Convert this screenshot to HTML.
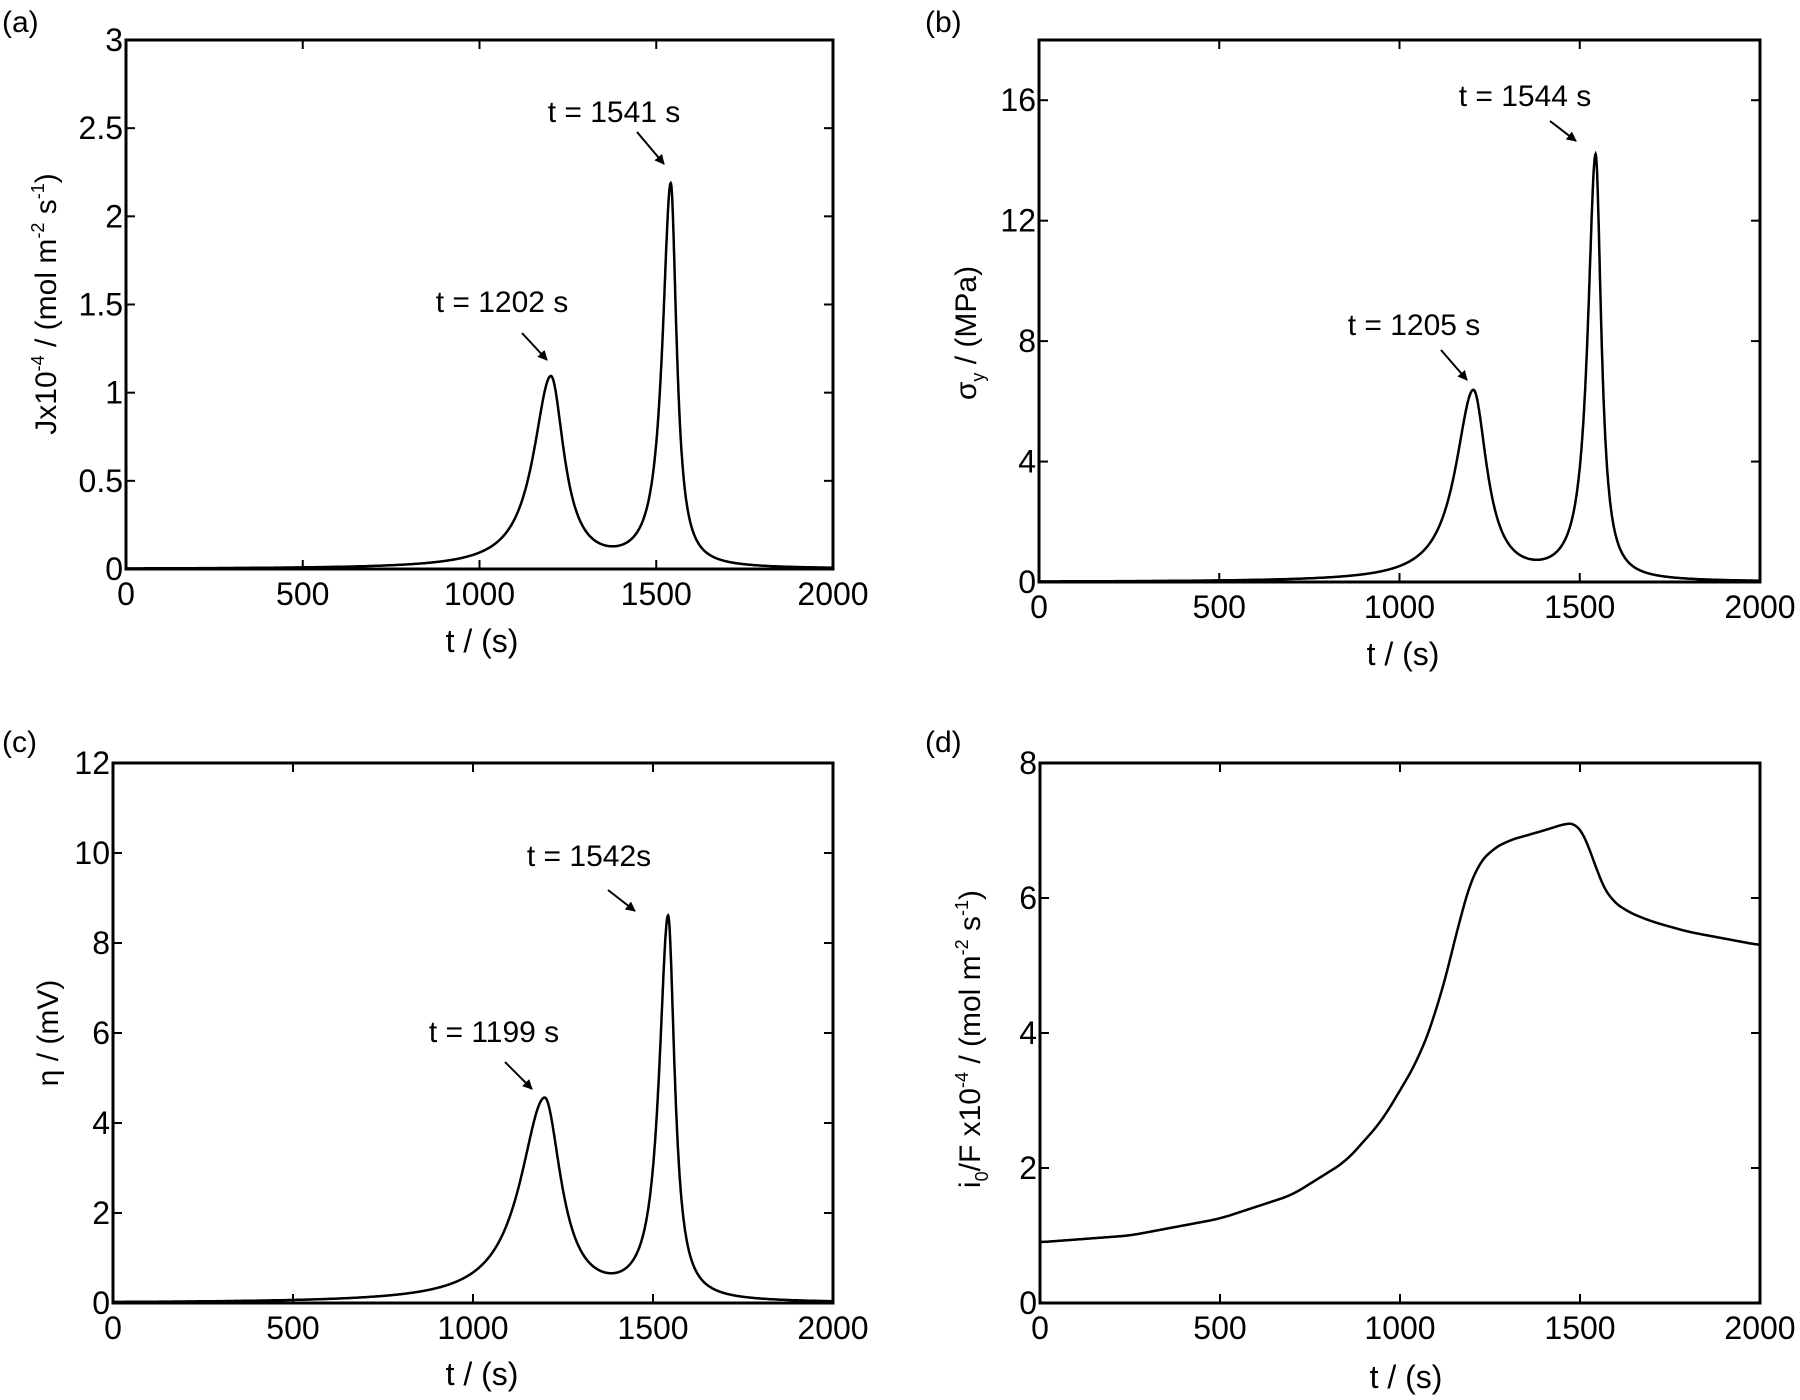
<!DOCTYPE html>
<html><head><meta charset="utf-8"><style>
html,body{margin:0;padding:0;background:#fff;}
svg{display:block;font-family:"Liberation Sans",sans-serif;}
</style></head><body>
<svg id="s" width="1800" height="1400" viewBox="0 0 1800 1400" xmlns="http://www.w3.org/2000/svg">
<defs><marker id="ar" markerWidth="10" markerHeight="10" refX="9" refY="5" orient="auto" markerUnits="userSpaceOnUse"><path d="M0,0 L10,5 L0,10 Z" fill="#000"/></marker></defs>
<text x="2" y="32" font-size="30">(a)</text>
<text x="925" y="32" font-size="30">(b)</text>
<text x="2" y="752" font-size="30">(c)</text>
<text x="925" y="752" font-size="30">(d)</text>
<text x="482" y="652" font-size="32" text-anchor="middle">t / (s)</text>
<text x="1403" y="665" font-size="32" text-anchor="middle">t / (s)</text>
<text x="482" y="1385" font-size="32" text-anchor="middle">t / (s)</text>
<text x="1406" y="1388" font-size="32" text-anchor="middle">t / (s)</text>
<text transform="translate(56,304) rotate(-90)" font-size="30" text-anchor="middle">Jx10<tspan font-size="18" dy="-12">-4</tspan><tspan dy="12"> / (mol m</tspan><tspan font-size="18" dy="-12">-2</tspan><tspan dy="12"> s</tspan><tspan font-size="18" dy="-12">-1</tspan><tspan dy="12">)</tspan></text>
<text transform="translate(976,333) rotate(-90)" font-size="30" text-anchor="middle">σ<tspan font-size="18" dy="8">y</tspan><tspan dy="-8"> / (MPa)</tspan></text>
<text transform="translate(58,1033) rotate(-90)" font-size="30" text-anchor="middle">η  / (mV)</text>
<text transform="translate(980,1039) rotate(-90)" font-size="30" text-anchor="middle">i<tspan font-size="18" dy="8">0</tspan><tspan dy="-8">/F x10</tspan><tspan font-size="18" dy="-12">-4</tspan><tspan dy="12">  / (mol m</tspan><tspan font-size="18" dy="-12">-2</tspan><tspan dy="12"> s</tspan><tspan font-size="18" dy="-12">-1</tspan><tspan dy="12">)</tspan></text>
<g font-size="30" text-anchor="middle">
<text x="614" y="122">t = 1541 s</text>
<text x="502" y="312">t = 1202 s</text>
<text x="1525" y="106">t = 1544 s</text>
<text x="1414" y="335">t = 1205 s</text>
<text x="589" y="866">t = 1542s</text>
<text x="494" y="1042">t = 1199 s</text>
</g>
<g stroke="#000" stroke-width="2" marker-end="url(#ar)">
<line x1="637" y1="132" x2="664" y2="164"/>
<line x1="522" y1="333" x2="547" y2="360"/>
<line x1="1550" y1="121" x2="1576" y2="141"/>
<line x1="1441" y1="350" x2="1467" y2="380"/>
<line x1="608" y1="890" x2="635" y2="911"/>
<line x1="505" y1="1062" x2="532" y2="1089"/>
</g>
<g id="plots"></g>
</svg>
<script>
var g=document.getElementById('plots');var NS='http://www.w3.org/2000/svg';
function el(t,a,txt){var e=document.createElementNS(NS,t);for(var k in a)e.setAttribute(k,a[k]);if(txt!==undefined)e.textContent=txt;g.appendChild(e);return e;}
function L(t,c,h,wl,wr){var u=(t-c)/(t<c?wl:wr);return h/(1+u*u);}
function panel(x0,x1,y0,y1,ymax,yt,f){
 var sx=function(t){return x0+(x1-x0)*t/2000},sy=function(v){return y1-(y1-y0)*v/ymax};
 var d='';for(var t=0;t<=2000;t+=1){d+=(t?'L':'M')+sx(t).toFixed(1)+','+sy(f(t)).toFixed(1);}
 el('path',{d:d,fill:'none',stroke:'#000','stroke-width':2.5});
 el('rect',{x:x0,y:y0,width:x1-x0,height:y1-y0,fill:'none',stroke:'#000','stroke-width':3});
 [0,500,1000,1500,2000].forEach(function(t){var x=sx(t);
  el('line',{x1:x,y1:y1,x2:x,y2:y1-9,stroke:'#000','stroke-width':2});
  el('line',{x1:x,y1:y0,x2:x,y2:y0+9,stroke:'#000','stroke-width':2});
  el('text',{x:x,y:y1+36,'font-size':32,'text-anchor':'middle'},String(t));});
 yt.forEach(function(v){var y=sy(v);
  el('line',{x1:x0,y1:y,x2:x0+9,y2:y,stroke:'#000','stroke-width':2});
  el('line',{x1:x1,y1:y,x2:x1-9,y2:y,stroke:'#000','stroke-width':2});
  el('text',{x:x0-3,y:y+11,'font-size':32,'text-anchor':'end'},String(v));});
}
panel(126,833,40,569,3,[0,0.5,1,1.5,2,2.5,3],function(t){return L(t,1202,1.08,60,45)+L(t,1541,2.17,28,20);});
panel(1039,1760,40,582,18,[0,4,8,12,16],function(t){return L(t,1205,6.3,60,45)+L(t,1544,14.1,26,19);});
panel(113,833,763,1303,12,[0,2,4,6,8,10,12],function(t){return L(t,1199,4.5,82,55)+L(t,1542,8.5,30,22);});
var pts=[[0,0.9],[250,1.0],[500,1.25],[700,1.6],[850,2.1],[950,2.7],[1050,3.6],[1100,4.3],[1150,5.3],[1180,6.0],[1210,6.45],[1250,6.7],[1300,6.85],[1400,7.0],[1470,7.12],[1500,7.1],[1525,6.8],[1550,6.3],[1580,6.0],[1630,5.8],[1700,5.65],[1800,5.5],[2000,5.3]];
function lin(t){for(var i=1;i<pts.length;i++){if(t<=pts[i][0]){var a=pts[i-1],b=pts[i];return a[1]+(b[1]-a[1])*(t-a[0])/(b[0]-a[0]);}}return 5.3;}
panel(1040,1760,763,1303,8,[0,2,4,6,8],function(t){var s=0,n=0;for(var k=-30;k<=30;k+=5){var u=Math.min(2000,Math.max(0,t+k));s+=lin(u);n++;}return s/n;});
</script>
</body></html>
